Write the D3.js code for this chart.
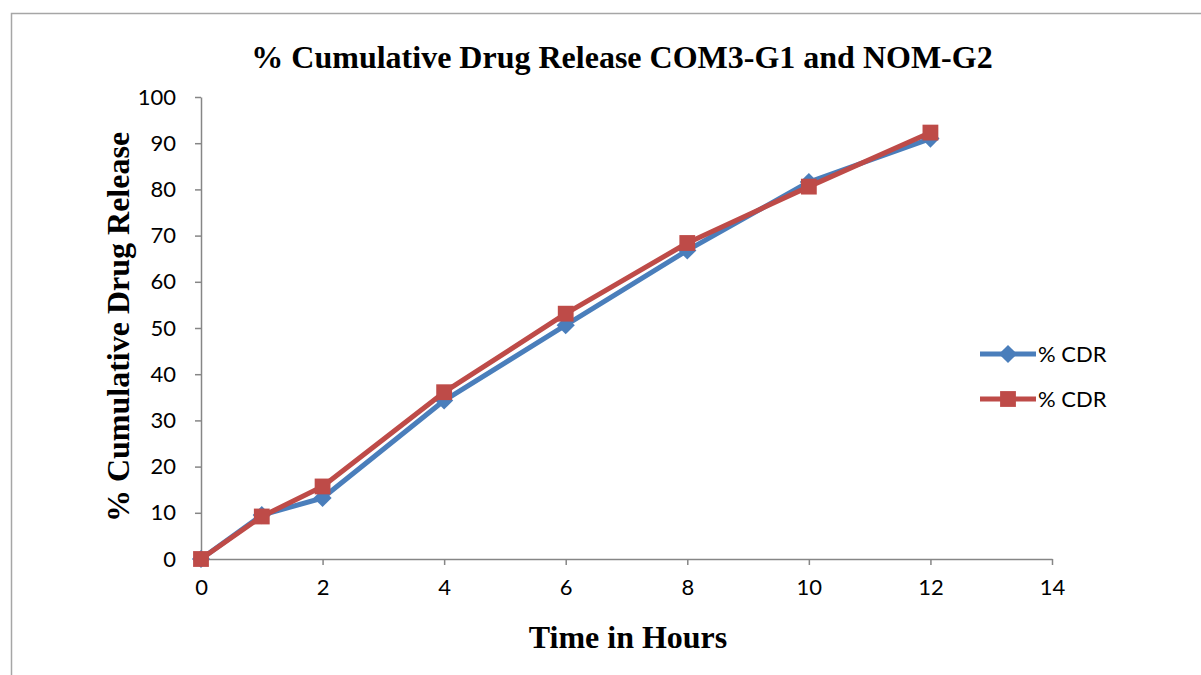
<!DOCTYPE html>
<html>
<head>
<meta charset="utf-8">
<script src="https://cdn.jsdelivr.net/npm/d3@7"></script>
<style>
  body { margin: 0; background: #fff; }
  svg { display: block; }
</style>
</head>
<body>
<svg width="1201" height="675"></svg>
<script>
(function (d3) {
  'use strict'

  const hours = [0, 1, 2, 4, 6, 8, 10, 12]
  const com3 = [0, 9.5, 13.2, 34.3, 50.6, 66.8, 81.6, 91.0]
  const nom2 = [0, 9.2, 15.7, 36.1, 53.1, 68.4, 80.6, 92.3]
  const xTicks = [0, 2, 4, 6, 8, 10, 12, 14]
  const yTicks = [0, 10, 20, 30, 40, 50, 60, 70, 80, 90, 100]
  const seriesNames = ['% CDR', '% CDR']

  const svg = d3.select('svg')
  const serif = 'Liberation Serif, Times New Roman, serif'
  const sans = 'Lato, Open Sans, sans-serif'

  // frame around the chart area (runs past the right and bottom edge)
  svg.append('rect').
    attr('x', 11.5).attr('y', 13.5).
    attr('width', 1300).attr('height', 800).
    attr('fill', 'none').attr('stroke', '#a6a6a6').attr('stroke-width', 1.5)

  const x = d3.scaleLinear().domain([0, 14]).range([201, 1052])
  const y = d3.scaleLinear().domain([0, 100]).range([559, 97])

  const axisColor = '#868686'

  const gx = svg.append('g').attr('transform', 'translate(0,559)').
    call(d3.axisBottom(x).tickValues(xTicks).tickSize(6).tickSizeOuter(0).tickPadding(12))
  const gy = svg.append('g').attr('transform', 'translate(201,0)').
    call(d3.axisLeft(y).tickValues(yTicks).tickSize(6).tickSizeOuter(0).tickPadding(19))

  ;[gx, gy].forEach(function (g) {
    g.selectAll('path, line').attr('stroke', axisColor).attr('stroke-width', 1.5)
    g.selectAll('text').attr('fill', '#000').
      style('font-family', sans).style('font-size', '22px')
  })
  gx.selectAll('text').attr('dy', '0.8em')

  const line = d3.line().
    x(function (d) { return x(d[0]) }).
    y(function (d) { return y(d[1]) })

  // excel style diamond = square turned by 45 degrees
  const series = [
    { name: seriesNames[0], color: '#4a7ebb', size: 165, turn: 45, values: d3.zip(hours, com3) },
    { name: seriesNames[1], color: '#be4b48', size: 250, turn: 0, values: d3.zip(hours, nom2) }
  ]

  series.forEach(function (s) {
    const g = svg.append('g')
    g.append('path').
      datum(s.values).
      attr('d', line).
      attr('fill', 'none').
      attr('stroke', s.color).
      attr('stroke-width', 5).
      attr('stroke-linejoin', 'round')
    g.selectAll('path.pt').
      data(s.values).
      enter().
      append('path').
      attr('class', 'pt').
      attr('d', d3.symbol().type(d3.symbolSquare).size(s.size)).
      attr('transform', function (d) {
        return 'translate(' + x(d[0]) + ',' + y(d[1]) + ') rotate(' + s.turn + ')'
      }).
      attr('fill', s.color)
  })

  // legend
  const legend = svg.append('g').
    selectAll('g').
    data(series).
    enter().
    append('g').
    attr('transform', function (d, i) { return 'translate(980,' + (354 + 45 * i) + ')' })
  legend.append('line').
    attr('x1', 0).attr('x2', 56).
    attr('stroke', function (d) { return d.color }).
    attr('stroke-width', 5)
  legend.append('path').
    attr('d', function (d) { return d3.symbol().type(d3.symbolSquare).size(d.size)() }).
    attr('transform', function (d) { return 'translate(28,0) rotate(' + d.turn + ')' }).
    attr('fill', function (d) { return d.color })
  legend.append('text').
    attr('x', 58).attr('dy', '0.35em').
    text(function (d) { return d.name }).
    style('font-family', sans).style('font-size', '22px')

  // title and axis labels
  svg.append('text').
    attr('x', 622).attr('y', 68).
    attr('text-anchor', 'middle').
    style('font-family', serif).style('font-size', '32px').style('font-weight', 'bold').
    text('% Cumulative Drug Release COM3-G1 and NOM-G2')

  svg.append('text').
    attr('transform', 'translate(129,327) rotate(-90)').
    attr('text-anchor', 'middle').
    style('font-family', serif).style('font-size', '32px').style('font-weight', 'bold').
    text('% Cumulative Drug Release')

  svg.append('text').
    attr('x', 628).attr('y', 648).
    attr('text-anchor', 'middle').
    style('font-family', serif).style('font-size', '32px').style('font-weight', 'bold').
    text('Time in Hours')
}(d3))
</script>
</body>
</html>
